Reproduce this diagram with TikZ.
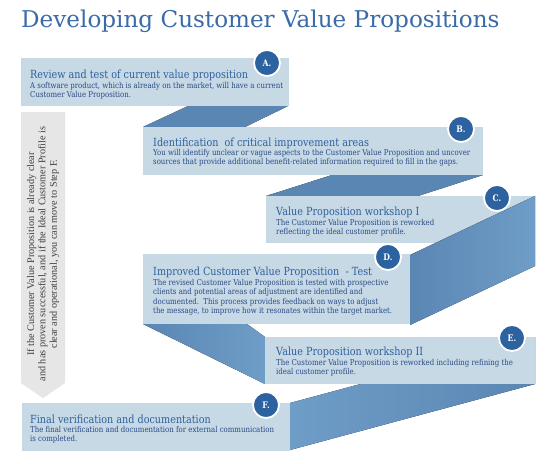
\documentclass[tikz,border=0pt]{standalone}
\usepackage{fontspec}
\setmainfont{DejaVu Serif}[FakeStretch=0.86]
\newfontfamily\titlefont{DejaVu Serif}
\newfontfamily\notefont{Liberation Serif}
\definecolor{bandc}{HTML}{C6D9E5}
\definecolor{folddark}{HTML}{5A86B3}
\definecolor{foldlight}{HTML}{6E9DC7}
\definecolor{headc}{HTML}{2F5F9E}
\definecolor{bodyc}{HTML}{2A4A85}
\definecolor{badgec}{HTML}{2C62A0}
\definecolor{titlec}{HTML}{3A6BA8}
\definecolor{arrowc}{HTML}{E6E6E6}
\definecolor{arrowtext}{HTML}{3F3F3F}
\begin{document}
\begin{tikzpicture}[x=1pt,y=-1pt,
  band/.style={fill=bandc, draw=none},
  fold/.style={left color=folddark, middle color=foldlight, right color=folddark, draw=none},
  foldlr/.style={left color=folddark, right color=foldlight, draw=none},
  foldrl/.style={left color=foldlight, right color=folddark, draw=none},
  head/.style={anchor=base west, inner sep=0, text=headc, font=\fontsize{11.2}{13}\selectfont},
  body/.style={anchor=north west, inner sep=0, text=bodyc, align=left, font=\fontsize{8.1}{9.4}\selectfont},
  badge/.style={circle, fill=badgec, draw=white, line width=1.8pt, minimum size=26pt, inner sep=0, text=white, font=\bfseries\fontsize{9}{9}\selectfont}]
\useasboundingbox[fill=white] (0,0) rectangle (558,464);
% title
\node[anchor=base west, inner sep=0, text=titlec, font=\titlefont\fontsize{23.1}{28}\selectfont] (title) at (21,27) {Developing Customer Value Propositions};
% folds and bands
\fill[fold] (188,106) -- (288,106) -- (245,127) -- (143,127) -- cycle;
\fill[band] (21,58) rectangle (289,106);
\fill[band] (143,127) rectangle (483,175);
\fill[fold] (332,175) -- (483,175) -- (418,196) -- (266,196) -- cycle;
\fill[band] (266,196) rectangle (535,243);
\fill[foldlr] (535,196) -- (410,255) -- (410,325) -- (535,266) -- cycle;
\fill[band] (143,254) rectangle (410,324);
\fill[foldlr] (143,324) -- (247,324) -- (265,337) -- (265,384) -- cycle;
\fill[foldrl] (290,403) -- (535,337) -- (535,384) -- (290,450) -- cycle;
\fill[band] (265,337) rectangle (535,384);
\fill[band] (22,403) rectangle (290,451);
% gray arrow
\fill[arrowc] (21,112) -- (65,112) -- (65,383) -- (43,398) -- (21,383) -- cycle;
\node[rotate=90, align=center, inner sep=0, text=arrowtext, font=\notefont\fontsize{10.2}{11.4}\selectfont] (skip) at (43,254)
  {If the Customer Value Proposition is already clear\\and has proven successful, and if the Ideal Customer Profile is\\clear and operational, you can move to Step F.};
% badges
\node[badge] (bA) at (267,63) {A.};
\node[badge] (bB) at (461,129) {B.};
\node[badge] (bC) at (497,198) {C.};
\node[badge] (bD) at (388,257) {D.};
\node[badge] (bE) at (512,338) {E.};
\node[badge] (bF) at (266,405) {F.};
% texts
\node[head] (hA) at (30,78) {Review and test of current value proposition};
\node[body] (tA) at (30,82) {A software product, which is already on the market, will have a current\\Customer Value Proposition.};
\node[head] (hB) at (153,146) {Identification\ \ of critical improvement areas};
\node[body] (tB) at (153,149) {You will identify unclear or vague aspects to the Customer Value Proposition and uncover\\sources that provide additional benefit-related information required to fill in the gaps.};
\node[head] (hC) at (276,215) {Value Proposition workshop I};
\node[body] (tC) at (276,219) {The Customer Value Proposition is reworked\\reflecting the ideal customer profile.};
\node[head] (hD) at (153,275) {Improved Customer Value Proposition\ \ - Test};
\node[body] (tD) at (153,279) {The revised Customer Value Proposition is tested with prospective\\clients and potential areas of adjustment are identified and\\documented.\ \ This process provides feedback on ways to adjust\\the message, to improve how it resonates within the target market.};
\node[head] (hE) at (276,355) {Value Proposition workshop II};
\node[body] (tE) at (276,359) {The Customer Value Proposition is reworked including refining the\\ideal customer profile.};
\node[head] (hF) at (30,423) {Final verification and documentation};
\node[body] (tF) at (30,426) {The final verification and documentation for external communication\\is completed.};
\end{tikzpicture}
\end{document}
